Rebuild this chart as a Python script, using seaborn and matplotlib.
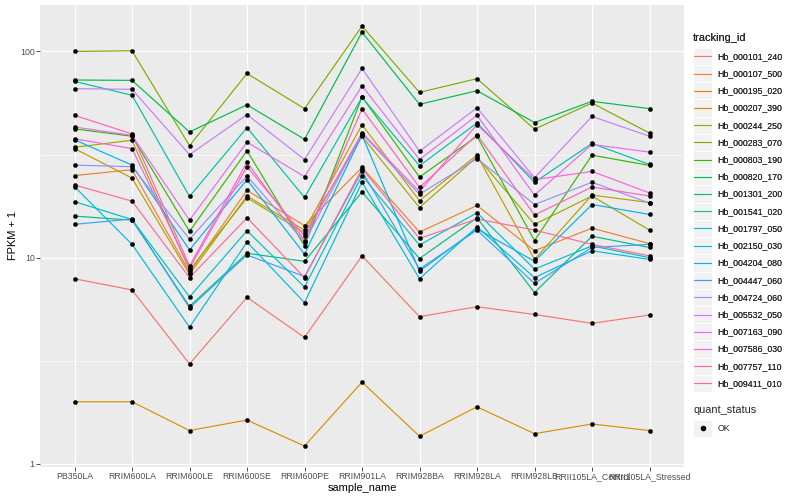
import numpy as np
import pandas as pd
import matplotlib
matplotlib.use("Agg")
import matplotlib.pyplot as plt
from matplotlib.lines import Line2D
from matplotlib.patches import Rectangle
from matplotlib.legend_handler import HandlerBase
from matplotlib.ticker import FixedLocator, FixedFormatter, NullFormatter
import seaborn as sns

samples = ["PB350LA", "RRIM600LA", "RRIM600LE", "RRIM600SE", "RRIM600PE", "RRIM901LA",
           "RRIM928BA", "RRIM928LA", "RRIM928LB", "RRII105LA_Control", "RRII105LA_Stressed"]

tracking_ids = ["Hb_000101_240", "Hb_000107_500", "Hb_000195_020", "Hb_000207_390", "Hb_000244_250",
                "Hb_000283_070", "Hb_000803_190", "Hb_000820_170", "Hb_001301_200", "Hb_001541_020",
                "Hb_001797_050", "Hb_002150_030", "Hb_004204_080", "Hb_004447_060", "Hb_004724_060",
                "Hb_005532_050", "Hb_007163_090", "Hb_007586_030", "Hb_007757_110", "Hb_009411_010"]

Hb_000101_240 = [7.9, 6.97, 3.05, 6.42, 4.1, 10.2, 5.17, 5.78, 5.3, 4.8, 5.27]
Hb_000107_500 = [25.0, 26.7, 8.5, 21.2, 14.3, 27.4, 13.3, 17.9, 10.8, 13.9, 11.7]
Hb_000195_020 = [2.0, 2.0, 1.45, 1.63, 1.22, 2.49, 1.36, 1.89, 1.40, 1.56, 1.45]
Hb_000207_390 = [33.8, 24.3, 8.3, 19.9, 13.6, 44.1, 18.9, 31.4, 9.8, 20.1, 18.5]
Hb_000244_250 = [34.3, 37.1, 8.7, 19.5, 13.2, 38.8, 17.5, 30.8, 14.5, 19.9, 13.6]
Hb_000283_070 = [100.0, 100.8, 34.9, 78.2, 52.8, 132.7, 63.3, 73.8, 42.0, 56.2, 40.2]
Hb_000803_190 = [42.1, 38.8, 13.4, 33.0, 11.4, 60.2, 24.6, 38.8, 12.1, 31.4, 28.0]
Hb_000820_170 = [72.7, 72.4, 40.7, 55.1, 37.5, 124.0, 55.4, 64.5, 45.2, 57.3, 52.8]
Hb_001301_200 = [15.9, 15.2, 5.8, 10.5, 9.6, 20.8, 9.9, 15.6, 6.77, 12.7, 11.2]
Hb_001541_020 = [71.6, 61.3, 19.8, 42.7, 19.6, 59.9, 27.9, 45.0, 23.2, 35.8, 28.3]
Hb_001797_050 = [18.7, 15.3, 6.45, 13.5, 7.2, 25.0, 11.5, 16.5, 8.8, 11.4, 10.0]
Hb_002150_030 = [22.1, 11.6, 4.6, 11.9, 6.05, 23.2, 7.9, 14.1, 8.0, 10.8, 9.8]
Hb_004204_080 = [37.3, 28.1, 10.9, 23.9, 10.4, 39.3, 8.6, 13.8, 9.6, 18.1, 16.2]
Hb_004447_060 = [14.5, 15.4, 5.7, 10.3, 8.1, 26.3, 8.8, 13.6, 7.5, 11.2, 11.6]
Hb_004724_060 = [28.1, 27.6, 12.3, 24.9, 11.9, 39.9, 20.3, 30.2, 18.1, 23.2, 18.4]
Hb_005532_050 = [66.0, 65.5, 31.6, 49.4, 29.9, 82.7, 32.8, 53.3, 24.4, 48.4, 38.8]
Hb_007163_090 = [43.0, 39.2, 15.2, 36.3, 24.7, 68.1, 29.9, 49.0, 20.1, 35.4, 32.5]
Hb_007586_030 = [37.7, 33.8, 8.9, 27.6, 12.7, 40.4, 20.9, 44.2, 23.9, 26.2, 20.6]
Hb_007757_110 = [49.0, 39.8, 9.1, 29.0, 12.1, 52.6, 21.9, 39.5, 16.1, 22.0, 19.9]
Hb_009411_010 = [22.5, 18.8, 8.0, 15.6, 8.0, 27.0, 12.4, 15.4, 13.6, 11.6, 10.2]

series = [Hb_000101_240, Hb_000107_500, Hb_000195_020, Hb_000207_390, Hb_000244_250,
          Hb_000283_070, Hb_000803_190, Hb_000820_170, Hb_001301_200, Hb_001541_020,
          Hb_001797_050, Hb_002150_030, Hb_004204_080, Hb_004447_060, Hb_004724_060,
          Hb_005532_050, Hb_007163_090, Hb_007586_030, Hb_007757_110, Hb_009411_010]

quant_status = "OK"


def hcl_to_hex(h, c=100.0, l=65.0):
    # CIE-LUV polar -> sRGB (as R's grDevices::hcl)
    Xn, Yn, Zn = 95.047, 100.0, 108.883
    un = 4 * Xn / (Xn + 15 * Yn + 3 * Zn)
    vn = 9 * Yn / (Xn + 15 * Yn + 3 * Zn)
    U = c * np.cos(np.radians(h))
    V = c * np.sin(np.radians(h))
    Y = Yn * ((l + 16) / 116) ** 3 if l > 8 else Yn * l / 903.3
    up = U / (13 * l) + un
    vp = V / (13 * l) + vn
    X = 9.0 * Y * up / (4 * vp)
    Z = -X / 3 - 5 * Y + 3 * Y / vp
    X, Y, Z = X / 100, Y / 100, Z / 100
    r = 3.240479 * X - 1.537150 * Y - 0.498535 * Z
    g = -0.969256 * X + 1.875992 * Y + 0.041556 * Z
    b = 0.055648 * X - 0.204043 * Y + 1.057311 * Z

    def gam(u):
        u = 12.92 * u if u <= 0.0031308 else 1.055 * u ** (1 / 2.4) - 0.055
        return min(max(u, 0.0), 1.0)
    return matplotlib.colors.to_hex((gam(r), gam(g), gam(b)))


n = len(tracking_ids)
hues = np.linspace(15, 375, n + 1)[:n]
palette = {tid: hcl_to_hex(h) for tid, h in zip(tracking_ids, hues)}

rows = []
for tid, vals in zip(tracking_ids, series):
    for s, v in zip(samples, vals):
        rows.append({"sample_name": s, "tracking_id": tid, "value": v, "quant_status": quant_status})
df = pd.DataFrame(rows)
df["sample_name"] = pd.Categorical(df["sample_name"], categories=samples, ordered=True)
df["xpos"] = df["sample_name"].cat.codes

sns.set_theme(style="darkgrid")
plt.rcParams["font.family"] = ["Liberation Sans", "DejaVu Sans"]

W, H = 800, 500
fig = plt.figure(figsize=(8, 5), dpi=100)
fig.patch.set_facecolor("white")
ax = fig.add_axes([40 / W, 1 - 467 / H, (684 - 40) / W, (467 - 5) / H])
ax.set_facecolor("#EBEBEB")

sns.lineplot(data=df, x="xpos", y="value", hue="tracking_id", palette=palette,
             hue_order=tracking_ids, estimator=None, sort=False, lw=0.85,
             legend=False, ax=ax, zorder=3)
sns.scatterplot(data=df, x="xpos", y="value", color="black", s=9, marker="o",
                edgecolor="black", linewidth=0.3, legend=False, ax=ax, zorder=4)

ax.set_yscale("log")
ax.set_ylim(0.965, 168)
ax.set_xlim(-0.6, len(samples) - 0.4)

ax.yaxis.set_major_locator(FixedLocator([1, 10, 100]))
ax.yaxis.set_major_formatter(FixedFormatter(["1", "10", "100"]))
ax.yaxis.set_minor_locator(FixedLocator([10 ** 0.5, 10 ** 1.5]))
ax.yaxis.set_minor_formatter(NullFormatter())
ax.set_xticks(range(len(samples)))
ax.set_xticklabels(samples)

ax.grid(True, which="major", color="white", lw=0.8)
ax.grid(True, which="minor", axis="y", color="white", lw=0.4)
ax.set_axisbelow(True)
for sp in ax.spines.values():
    sp.set_visible(False)

ax.tick_params(axis="both", which="major", length=2.8, width=0.6, color="#333333",
               labelsize=6.3, labelcolor="#4D4D4D", pad=1.0, direction="out")
ax.tick_params(axis="both", which="minor", length=0)
ax.tick_params(axis="x", bottom=True)
ax.tick_params(axis="y", left=True)

ax.set_xlabel("sample_name", fontsize=7.9, color="black", labelpad=1.5)
ax.set_ylabel("FPKM + 1", fontsize=7.9, color="black", labelpad=1.5)


class KeyLine(HandlerBase):
    def create_artists(self, legend, orig_handle, xdescent, ydescent, width, height, fontsize, trans):
        rect = Rectangle((-xdescent, -ydescent), width, height, facecolor="#F2F2F2",
                         edgecolor="white", lw=0.6, transform=trans)
        ln = Line2D([-xdescent + 1, -xdescent + width - 1], [-ydescent + height / 2] * 2,
                    color=orig_handle.get_color(), lw=0.85, transform=trans)
        return [rect, ln]


class KeyPoint(HandlerBase):
    def create_artists(self, legend, orig_handle, xdescent, ydescent, width, height, fontsize, trans):
        rect = Rectangle((-xdescent, -ydescent), width, height, facecolor="#F2F2F2",
                         edgecolor="white", lw=0.6, transform=trans)
        pt = Line2D([-xdescent + width / 2], [-ydescent + height / 2], marker="o",
                    markersize=3.0, color="black", lw=0, transform=trans)
        return [rect, pt]


KL, KH = 2.2, 2.65
handles = [Line2D([], [], color=palette[t]) for t in tracking_ids]
leg1 = fig.legend(handles, tracking_ids, loc="upper left",
                  bbox_to_anchor=(693 / W, 1 - 33 / H), frameon=False,
                  title="tracking_id", title_fontsize=7.9, fontsize=6.3,
                  handler_map={Line2D: KeyLine()}, handlelength=KL, handleheight=KH,
                  labelspacing=0.0, handletextpad=0.6, borderpad=0, borderaxespad=0,
                  alignment="left")
leg1._legend_box.sep = 3.4
fig.add_artist(leg1)

pt_handle = Line2D([], [], color="black", marker="o")
leg2 = fig.legend([pt_handle], ["OK"], loc="upper left",
                  bbox_to_anchor=(693 / W, 1 - 405 / H), frameon=False,
                  title="quant_status", title_fontsize=7.9, fontsize=6.3,
                  handler_map={Line2D: KeyPoint()}, handlelength=KL, handleheight=KH,
                  labelspacing=0.0, handletextpad=0.6, borderpad=0, borderaxespad=0,
                  alignment="left")
leg2._legend_box.sep = 3.4

fig.savefig("out.png", dpi=100, facecolor="white")
